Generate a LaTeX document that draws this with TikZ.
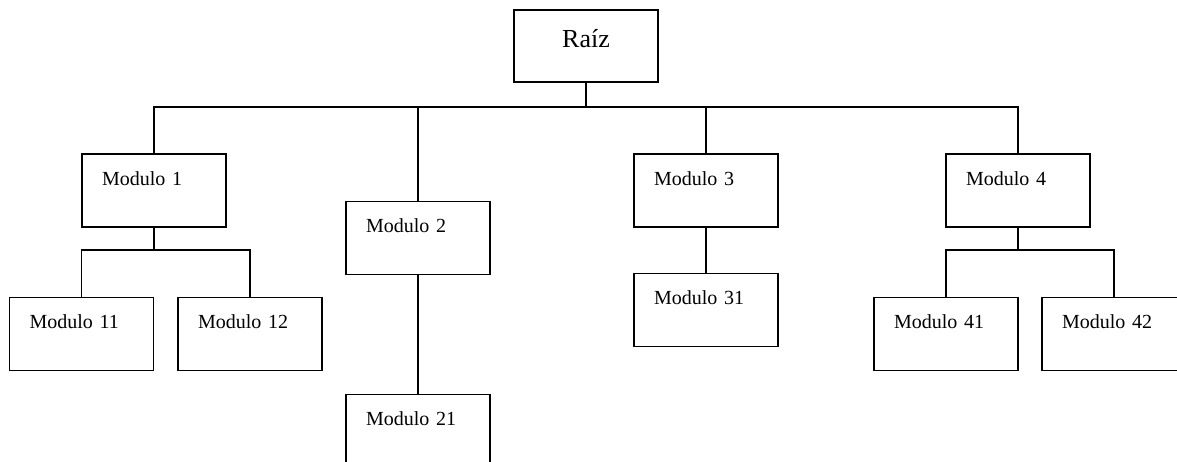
\documentclass[tikz,border=0pt]{standalone}
\usepackage{fontspec}
\setmainfont{Liberation Serif}
\usetikzlibrary{positioning,calc}

\begin{document}
\begin{tikzpicture}[x=0.5pt, y=-0.5pt, line width=0.9pt,
    modbox/.style={draw, inner xsep=10pt, inner ysep=0pt, text width=52pt, align=left,
        text height=15.5pt, text depth=21pt, font=\fontsize{10}{12}\selectfont},
    rootbox/.style={draw, inner xsep=10pt, inner ysep=0pt, text width=52pt, align=center,
        text height=18.5pt, text depth=17.5pt, font=\fontsize{13}{15}\selectfont}]
    \useasboundingbox (0,0) rectangle (1177,461);

    \node[rootbox] (raiz) at (586,46) {Raíz};

    \node[modbox] (mod1) at (154,190.5) {Modulo 1};
    \node[modbox] (mod2) at (418,238) {Modulo 2};
    \node[modbox] (mod3) at (706,190.5) {Modulo 3};
    \node[modbox] (mod4) at (1018,190.5) {Modulo 4};

    \node[modbox] (mod11) at (81.5,334) {Modulo 11};
    \node[modbox] (mod12) at (250,334) {Modulo 12};
    \node[modbox] (mod21) at (418,431) {Modulo 21};
    \node[modbox] (mod31) at (706,310) {Modulo 31};
    \node[modbox] (mod41) at (946,334) {Modulo 41};
    \node[modbox] (mod42) at (1114,334) {Modulo 42};

    \coordinate (bus) at (586,107);
    \coordinate (bus1) at (154,250);
    \coordinate (bus4) at (1018,250);

    \draw (raiz.south) -- (bus);
    \draw (mod1.north) |- (bus) -| (mod4.north);
    \draw (mod2.north) -- (mod2.north |- bus);
    \draw (mod3.north) -- (mod3.north |- bus);

    \draw (mod1.south) -- (bus1);
    \draw (mod11.north) |- (bus1) -| (mod12.north);
    \draw (mod2.south) -- (mod21.north);
    \draw (mod3.south) -- (mod31.north);
    \draw (mod4.south) -- (bus4);
    \draw (mod41.north) |- (bus4) -| (mod42.north);
\end{tikzpicture}
\end{document}
